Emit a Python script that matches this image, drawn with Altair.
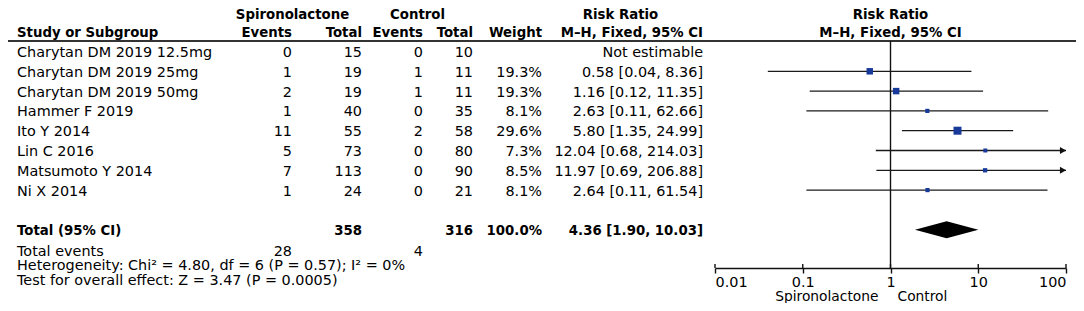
import altair as alt
import pandas as pd

# ---------------- data ----------------
studies = ["Charytan DM 2019 12.5mg", "Charytan DM 2019 25mg", "Charytan DM 2019 50mg",
           "Hammer F 2019", "Ito Y 2014", "Lin C 2016", "Matsumoto Y 2014", "Ni X 2014"]
sp_events = [0, 1, 2, 1, 11, 5, 7, 1]
sp_total = [15, 19, 19, 40, 55, 73, 113, 24]
ct_events = [0, 1, 1, 0, 2, 0, 0, 0]
ct_total = [10, 11, 11, 35, 58, 80, 90, 21]
weights = [None, 19.3, 19.3, 8.1, 29.6, 7.3, 8.5, 8.1]
rr = [None, 0.58, 1.16, 2.63, 5.80, 12.04, 11.97, 2.64]
ci_lo = [None, 0.04, 0.12, 0.11, 1.35, 0.68, 0.69, 0.11]
ci_hi = [None, 8.36, 11.35, 62.66, 24.99, 214.03, 206.88, 61.54]

total_sp = 358
total_ct = 316
total_weight = "100.0%"
total_rr, total_lo, total_hi = 4.36, 1.90, 10.03
events_sp, events_ct = 28, 4
heterogeneity = "Heterogeneity: Chi\u00b2 = 4.80, df = 6 (P = 0.57); I\u00b2 = 0%"
overall = "Test for overall effect: Z = 3.47 (P = 0.0005)"

tick_values = [0.01, 0.1, 1, 10, 100]
favours = ["Spironolactone", "Control"]

# ---------------- style / layout ----------------
FONT = "DejaVu Sans"
FS = 14.4
FSB = 13.3
NAVY = "#16399a"
INK = "#111111"
TDY = 1.5

PAD_TOP, PAD_BOTTOM = 6, 35
W, H = 1068, 254
X_NAME, X_SPE, X_SPT, X_CTE, X_CTT, X_WT, X_RR = 9, 284, 354, 415, 465, 534, 695
X_H_SP, X_H_CT, X_H_RR = 284.5, 409.5, 612.5

yscale = alt.Scale(domain=[0, 9], range=[37.5, 215.7])
xscale = alt.Scale(type="log", domain=[0.01, 100], range=[707, 1058], clamp=True)
xaxis = alt.Axis(values=tick_values, labelExpr="'' + datum.value", title=None, grid=False,
                 domainColor=INK, domainWidth=1.4, tickColor=INK, tickWidth=1.4, tickSize=5,
                 labelFlush=True, labelFont=FONT, labelFontSize=FS, labelColor="black",
                 labelPadding=2)

rows = list(range(len(studies)))
df = pd.DataFrame({
    "row": rows,
    "study": studies,
    "spe": sp_events, "spt": sp_total, "cte": ct_events, "ctt": ct_total,
    "wt": ["" if w is None else f"{w}%" for w in weights],
    "weight": weights,
    "rr": rr, "lo": ci_lo, "hi": ci_hi,
    "rrt": ["Not estimable" if r is None else f"{r:.2f} [{l:.2f}, {h:.2f}]"
            for r, l, h in zip(rr, ci_lo, ci_hi)],
})
df_est = df.dropna(subset=["rr"])

ROW_H1, ROW_H2, ROW_LINE = -1.93, -1.0, -0.53
ROW_TOT, ROW_EV, ROW_HET, ROW_OV = 9, 10.03, 10.78, 11.54


def text_layer(data, field, x, align="right", bold=False, size=None):
    return alt.Chart(data).mark_text(
        align=align, baseline="middle", font=FONT, dy=TDY,
        fontSize=size if size else (FSB if bold else FS),
        fontWeight="bold" if bold else "normal", color="black"
    ).encode(
        x=alt.value(x),
        y=alt.Y("row:Q", scale=yscale, axis=None),
        text=alt.Text(f"{field}:N"),
    )


def one(label, row):
    return pd.DataFrame({"row": [row], "t": [label]})


layers = []
# headers
layers += [
    text_layer(one("Spironolactone", ROW_H1), "t", X_H_SP, "center", True),
    text_layer(one("Control", ROW_H1), "t", X_H_CT, "center", True),
    text_layer(one("Risk Ratio", ROW_H1), "t", X_H_RR, "center", True),
    text_layer(one("Study or Subgroup", ROW_H2), "t", X_NAME, "left", True),
    text_layer(one("Events", ROW_H2), "t", X_SPE, "right", True),
    text_layer(one("Total", ROW_H2), "t", X_SPT, "right", True),
    text_layer(one("Events", ROW_H2), "t", X_CTE, "right", True),
    text_layer(one("Total", ROW_H2), "t", X_CTT, "right", True),
    text_layer(one("Weight", ROW_H2), "t", X_WT, "right", True),
    text_layer(one("M\u2013H, Fixed, 95% CI", ROW_H2), "t", X_RR, "right", True),
]
# study rows
layers += [
    text_layer(df, "study", X_NAME, "left"),
    text_layer(df, "spe", X_SPE),
    text_layer(df, "spt", X_SPT),
    text_layer(df, "cte", X_CTE),
    text_layer(df, "ctt", X_CTT),
    text_layer(df, "wt", X_WT),
    text_layer(df, "rrt", X_RR),
]
# totals
layers += [
    text_layer(one("Total (95% CI)", ROW_TOT), "t", X_NAME, "left", True),
    text_layer(one(str(total_sp), ROW_TOT), "t", X_SPT, "right", True),
    text_layer(one(str(total_ct), ROW_TOT), "t", X_CTT, "right", True),
    text_layer(one(total_weight, ROW_TOT), "t", X_WT, "right", True),
    text_layer(one(f"{total_rr:.2f} [{total_lo:.2f}, {total_hi:.2f}]", ROW_TOT), "t", X_RR, "right", True),
    text_layer(one("Total events", ROW_EV), "t", X_NAME, "left"),
    text_layer(one(str(events_sp), ROW_EV), "t", X_SPE, "right"),
    text_layer(one(str(events_ct), ROW_EV), "t", X_CTE, "right"),
    text_layer(one(heterogeneity, ROW_HET), "t", X_NAME, "left"),
    text_layer(one(overall, ROW_OV), "t", X_NAME, "left"),
]

# header rule
layers.append(
    alt.Chart(one("", ROW_LINE)).mark_rule(color="#333333", strokeWidth=2).encode(
        x=alt.value(0), x2=alt.value(W), y=alt.Y("row:Q", scale=yscale, axis=None))
)

# forest-plot header (centred on RR = 1)
for lab, row in [("Risk Ratio", ROW_H1), ("M\u2013H, Fixed, 95% CI", ROW_H2)]:
    layers.append(
        alt.Chart(one(lab, row)).mark_text(align="center", baseline="middle", font=FONT, dy=TDY,
                                           fontSize=FSB, fontWeight="bold", color="black").encode(
            x=alt.X("datum_one:Q", scale=xscale, axis=xaxis),
            y=alt.Y("row:Q", scale=yscale, axis=None), text="t:N"
        ).transform_calculate(datum_one="1")
    )

# line of no effect
layers.append(
    alt.Chart(one("", ROW_LINE)).transform_calculate(one="1").mark_rule(color=INK, strokeWidth=1.4).encode(
        x=alt.X("one:Q", scale=xscale, axis=xaxis),
        y=alt.Y("row:Q", scale=yscale, axis=None), y2=alt.value(H))
)

# confidence intervals
layers.append(
    alt.Chart(df_est).mark_rule(color="#1a1a1a", strokeWidth=1.3).encode(
        x=alt.X("lo:Q", scale=xscale, axis=xaxis), x2="hi:Q",
        y=alt.Y("row:Q", scale=yscale, axis=None))
)
# arrows for CIs beyond the axis
layers.append(
    alt.Chart(df_est).transform_filter("datum.hi > 100").mark_point(
        shape="triangle-right", filled=True, color=INK, opacity=1, size=50, xOffset=-3).encode(
        x=alt.X("hi:Q", scale=xscale, axis=xaxis),
        y=alt.Y("row:Q", scale=yscale, axis=None))
)
# weighted squares
layers.append(
    alt.Chart(df_est).mark_square(color=NAVY, opacity=1).encode(
        x=alt.X("rr:Q", scale=xscale, axis=xaxis),
        y=alt.Y("row:Q", scale=yscale, axis=None),
        size=alt.Size("weight:Q", scale=alt.Scale(domain=[0, 29.6], range=[0, 64]), legend=None))
)
# pooled diamond
df_d = pd.DataFrame({"x": [total_lo, total_rr, total_hi], "hh": [0, 0.43, 0], "row": [ROW_TOT] * 3})
layers.append(
    alt.Chart(df_d).transform_calculate(top="datum.row - datum.hh", bot="datum.row + datum.hh")
    .mark_area(color="black", orient="vertical", opacity=1).encode(
        x=alt.X("x:Q", scale=xscale, axis=xaxis),
        y=alt.Y("top:Q", scale=yscale, axis=None), y2="bot:Q")
)
# upward half of the axis ticks
df_t = pd.DataFrame({"v": tick_values})
layers.append(
    alt.Chart(df_t).mark_rule(color=INK, strokeWidth=1.4).encode(
        x=alt.X("v:Q", scale=xscale, axis=xaxis), y=alt.value(H - 4), y2=alt.value(H))
)
# favours labels
df_f = pd.DataFrame({"v": [1, 1], "t": favours})
layers.append(
    alt.Chart(df_f.iloc[[0]]).mark_text(align="right", baseline="middle", font=FONT, fontSize=13.8,
                                        color="black", dx=-12).encode(
        x=alt.X("v:Q", scale=xscale, axis=xaxis), y=alt.value(H + 28.5), text="t:N")
)
layers.append(
    alt.Chart(df_f.iloc[[1]]).mark_text(align="left", baseline="middle", font=FONT, fontSize=13.8,
                                        color="black", dx=7).encode(
        x=alt.X("v:Q", scale=xscale, axis=xaxis), y=alt.value(H + 28.5), text="t:N")
)

chart = alt.layer(*layers).properties(
    width=W, height=H,
    padding={"left": 0, "top": PAD_TOP, "right": 0, "bottom": PAD_BOTTOM},
    autosize=alt.AutoSizeParams(type="none"),
    background="white",
).configure_view(stroke=None)

chart.save("out.html", embed_options={"renderer": "svg", "actions": False})
